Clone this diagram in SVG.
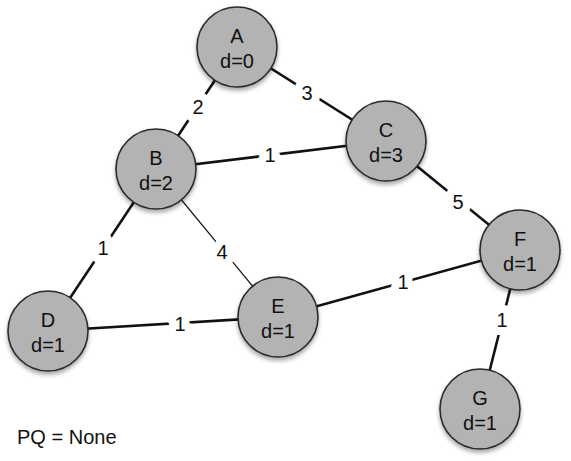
<svg xmlns="http://www.w3.org/2000/svg" width="571" height="461" viewBox="0 0 571 461">
<style>
.node circle{fill:#b3b3b3;stroke:#2a2a2a;stroke-width:1.6;filter:url(#sh)}
.node text,.lbl,.pq{font-family:"Liberation Sans",Arial,sans-serif;font-size:20px;fill:#111;text-anchor:middle}
.edges line{stroke:#111;stroke-width:2.6}
.edges line.thin{stroke-width:1.2}
.lbl{paint-order:stroke;stroke:#fff;stroke-width:16px;stroke-linejoin:round}
.pq{text-anchor:start}
</style>
<defs>
<filter id="sh" x="-20%" y="-20%" width="140%" height="150%">
<feDropShadow dx="0" dy="3" stdDeviation="2" flood-color="#000" flood-opacity="0.35"/>
</filter>
</defs>
<rect width="571" height="461" fill="#fff"/>
<g id="connectors" class="edges">
<line x1="237" y1="47" x2="156" y2="169"/>
<line x1="237" y1="47" x2="386" y2="141"/>
<line x1="156" y1="169" x2="386" y2="141"/>
<line x1="156" y1="169" x2="48" y2="331"/>
<line class="thin" x1="156" y1="169" x2="278" y2="317"/>
<line x1="48" y1="331" x2="278" y2="317"/>
<line x1="278" y1="317" x2="520" y2="250"/>
<line x1="386" y1="141" x2="520" y2="250"/>
<line x1="520" y1="250" x2="480" y2="409"/>
<text class="lbl" x="198" y="114">2</text>
<text class="lbl" x="307" y="100">3</text>
<text class="lbl" x="270" y="162">1</text>
<text class="lbl" x="103" y="255">1</text>
<text class="lbl" x="222" y="259">4</text>
<text class="lbl" x="180" y="331">1</text>
<text class="lbl" x="403" y="289">1</text>
<text class="lbl" x="458" y="209">5</text>
<text class="lbl" x="502" y="327">1</text>
</g>
<g id="A" class="node"><circle cx="237" cy="47" r="40"/><text x="237" y="43">A</text><text x="237" y="68">d=0</text></g>
<g id="B" class="node"><circle cx="156" cy="169" r="40"/><text x="156" y="165">B</text><text x="156" y="190">d=2</text></g>
<g id="C" class="node"><circle cx="386" cy="141" r="40"/><text x="386" y="137">C</text><text x="386" y="162">d=3</text></g>
<g id="D" class="node"><circle cx="48" cy="331" r="40"/><text x="48" y="327">D</text><text x="48" y="352">d=1</text></g>
<g id="E" class="node"><circle cx="278" cy="317" r="40"/><text x="278" y="313">E</text><text x="278" y="338">d=1</text></g>
<g id="F" class="node"><circle cx="520" cy="250" r="40"/><text x="520" y="246">F</text><text x="520" y="271">d=1</text></g>
<g id="G" class="node"><circle cx="480" cy="409" r="40"/><text x="480" y="405">G</text><text x="480" y="430">d=1</text></g>
<text class="pq" x="17" y="444">PQ = None</text>
</svg>
